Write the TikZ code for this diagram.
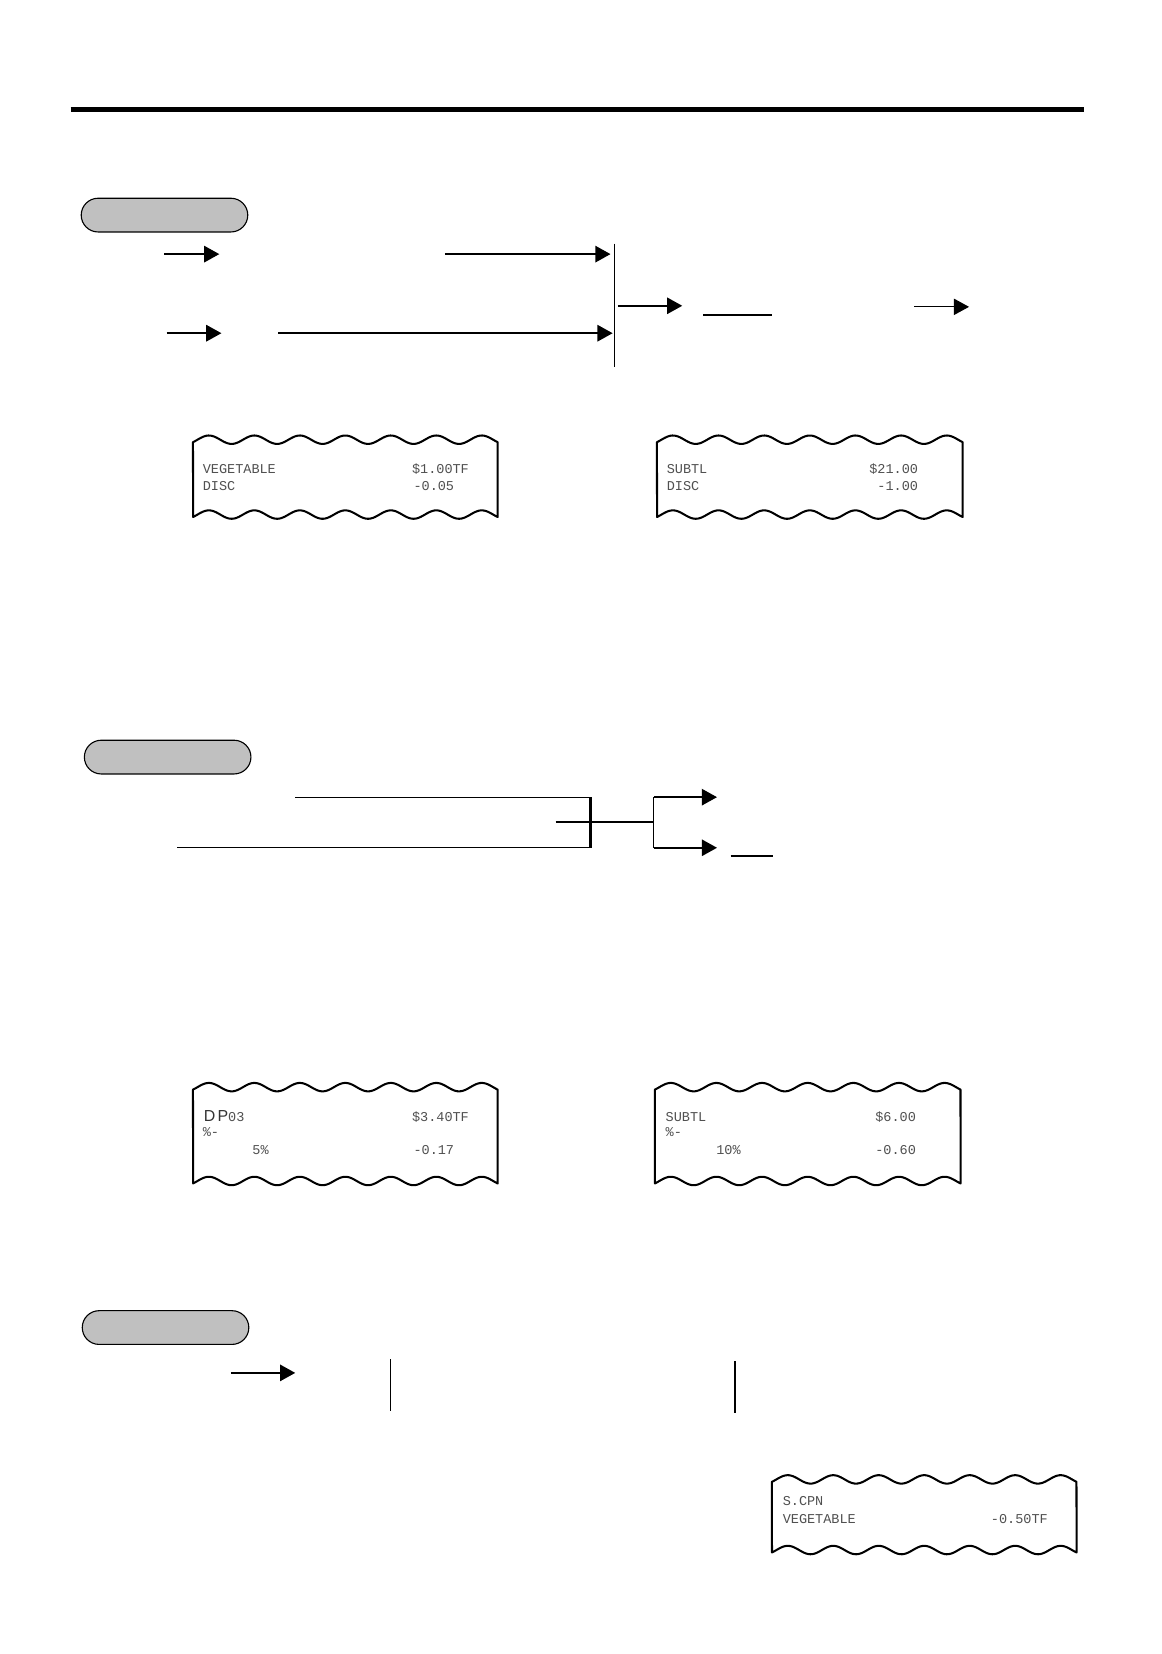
\documentclass[tikz,border=0pt]{standalone}
\usepackage{fontspec}
\usetikzlibrary{arrows.meta,shapes.misc}
\newfontfamily\rcptfont{Liberation Mono}
\newfontfamily\dpfont{Liberation Sans}
\definecolor{pillgray}{HTML}{C0C0C0}
\definecolor{rcptink}{HTML}{505050}
\newcommand\rcptoutline[4]{%
  \draw[rcptline] plot[domain=0:1, samples=160, smooth, variable=\t]
      ({#1+(#2-#1)*\t}, {#3-4*cos(360*(\t*6.7-0.35))})
    -- plot[domain=1:0, samples=160, smooth, variable=\t]
      ({#1+(#2-#1)*\t}, {#4-4*cos(360*(\t*6.7-0.35))})
    -- cycle;}
\tikzset{
  pill/.style={rounded rectangle, draw=black, line width=0.6pt, fill=pillgray,
    minimum width=3.16cm, minimum height=0.64cm, inner sep=0pt},
  arr/.style={line width=1.1pt, -{Triangle[length=8.2pt,width=8.8pt]}},
  thinarr/.style={line width=0.6pt, -{Triangle[length=8.2pt,width=8.8pt]}},
  thinline/.style={line width=0.7pt},
  midline/.style={line width=1.1pt},
  rulestyle/.style={line width=2.5pt},
  rcptline/.style={line width=1.1pt, fill=white, line join=round},
  rtext/.style={font=\rcptfont\fontsize{7.3}{8}\selectfont, text=rcptink, inner sep=0pt},
}
\begin{document}
\begin{tikzpicture}[x=0.02cm, y=-0.02cm]
\useasboundingbox (0,0) rectangle (1102,1568.6);

% top rule
\coordinate (rl) at (67,104);
\coordinate (rr) at (1028,104);
\draw[rulestyle] (rl) -- (rr);

% ---------- section 1 ----------
\node[pill] (p1) at (156,204) {};
\coordinate (a1s) at (156,241); \coordinate (a1e) at (208,241);
\coordinate (a2s) at (422,241); \coordinate (a2e) at (579,241);
\coordinate (a3s) at (158,316); \coordinate (a3e) at (210,316);
\coordinate (a4s) at (264,316); \coordinate (a4e) at (581,316);
\coordinate (v1t) at (583,231); \coordinate (v1b) at (583,348);
\coordinate (a5s) at (586,290); \coordinate (a5e) at (647,290);
\coordinate (u1s) at (667,299); \coordinate (u1e) at (732,299);
\coordinate (a6s) at (867,291); \coordinate (a6e) at (919,291);
\draw[arr] (a1s) -- (a1e);
\draw[arr] (a2s) -- (a2e);
\draw[arr] (a3s) -- (a3e);
\draw[arr] (a4s) -- (a4e);
\draw[thinline] (v1t) -- (v1b);
\draw[arr] (a5s) -- (a5e);
\draw[midline] (u1s) -- (u1e);
\draw[thinarr] (a6s) -- (a6e);

% receipts 1 and 2
\rcptoutline{183}{472}{417}{488}
\node[rtext, anchor=base west] (r1a) at (192,449) {VEGETABLE};
\node[rtext, anchor=base east] (r1b) at (445,449) {\$1.00TF};
\node[rtext, anchor=base west] (r1c) at (192,465) {DISC};
\node[rtext, anchor=base east] (r1d) at (431,465) {-0.05};

\rcptoutline{623}{913}{417}{488}
\node[rtext, anchor=base west] (r2a) at (632,449) {SUBTL};
\node[rtext, anchor=base east] (r2b) at (871,449) {\$21.00};
\node[rtext, anchor=base west] (r2c) at (632,465) {DISC};
\node[rtext, anchor=base east] (r2d) at (871,465) {-1.00};

% ---------- section 2 ----------
\node[pill] (p2) at (159,718) {};
\coordinate (l1s) at (280,756); \coordinate (l1e) at (560,756);
\coordinate (l2s) at (168,804); \coordinate (l2e) at (560,804);
\coordinate (l3s) at (527,780); \coordinate (l3e) at (620,780);
\coordinate (v3t) at (620,756); \coordinate (v3b) at (620,804);
\coordinate (a7e) at (680,756);
\coordinate (a8e) at (680,804);
\coordinate (u2s) at (693,812); \coordinate (u2e) at (733,812);
\draw[thinline] (l1s) -- (l1e);
\draw[thinline] (l2s) -- (l2e);
\draw[midline] (l1e) -- (l2e);
\draw[midline] (l3s) -- (l3e);
\draw[thinline] (v3t) -- (v3b);
\draw[arr] (v3t) -- (a7e);
\draw[arr] (v3b) -- (a8e);
\draw[midline] (u2s) -- (u2e);

% receipts 3 and 4
\rcptoutline{183}{472}{1031}{1120}
\node[rtext, anchor=base west] (r3a) at (193,1064)
  {{\dpfont\fontsize{8.6}{9}\selectfont\color{black!80}D\kern1.2pt P}03};
\node[rtext, anchor=base east] (r3b) at (445,1064) {\$3.40TF};
\node[rtext, anchor=base west] (r3c) at (192,1078) {\%-};
\node[rtext, anchor=base west] (r3d) at (239,1095) {5\%};
\node[rtext, anchor=base east] (r3e) at (431,1095) {-0.17};

\rcptoutline{621}{911}{1031}{1120}
\node[rtext, anchor=base west] (r4a) at (631,1064) {SUBTL};
\node[rtext, anchor=base east] (r4b) at (869,1064) {\$6.00};
\node[rtext, anchor=base west] (r4c) at (631,1078) {\%-};
\node[rtext, anchor=base west] (r4d) at (679,1095) {10\%};
\node[rtext, anchor=base east] (r4e) at (869,1095) {-0.60};

% ---------- section 3 ----------
\node[pill] (p3) at (157,1259) {};
\coordinate (a9s) at (219,1302); \coordinate (a9e) at (280,1302);
\coordinate (v4t) at (370,1289); \coordinate (v4b) at (370,1338);
\coordinate (v5t) at (697,1291); \coordinate (v5b) at (697,1340);
\draw[arr] (a9s) -- (a9e);
\draw[thinline] (v4t) -- (v4b);
\draw[thinline] (v5t) -- (v5b);

% receipt 5
\rcptoutline{732}{1021}{1403}{1470}
\node[rtext, anchor=base west] (r5a) at (742,1428) {S.CPN};
\node[rtext, anchor=base west] (r5b) at (742,1445) {VEGETABLE};
\node[rtext, anchor=base east] (r5c) at (994,1445) {-0.50TF};
\end{tikzpicture}
\end{document}
